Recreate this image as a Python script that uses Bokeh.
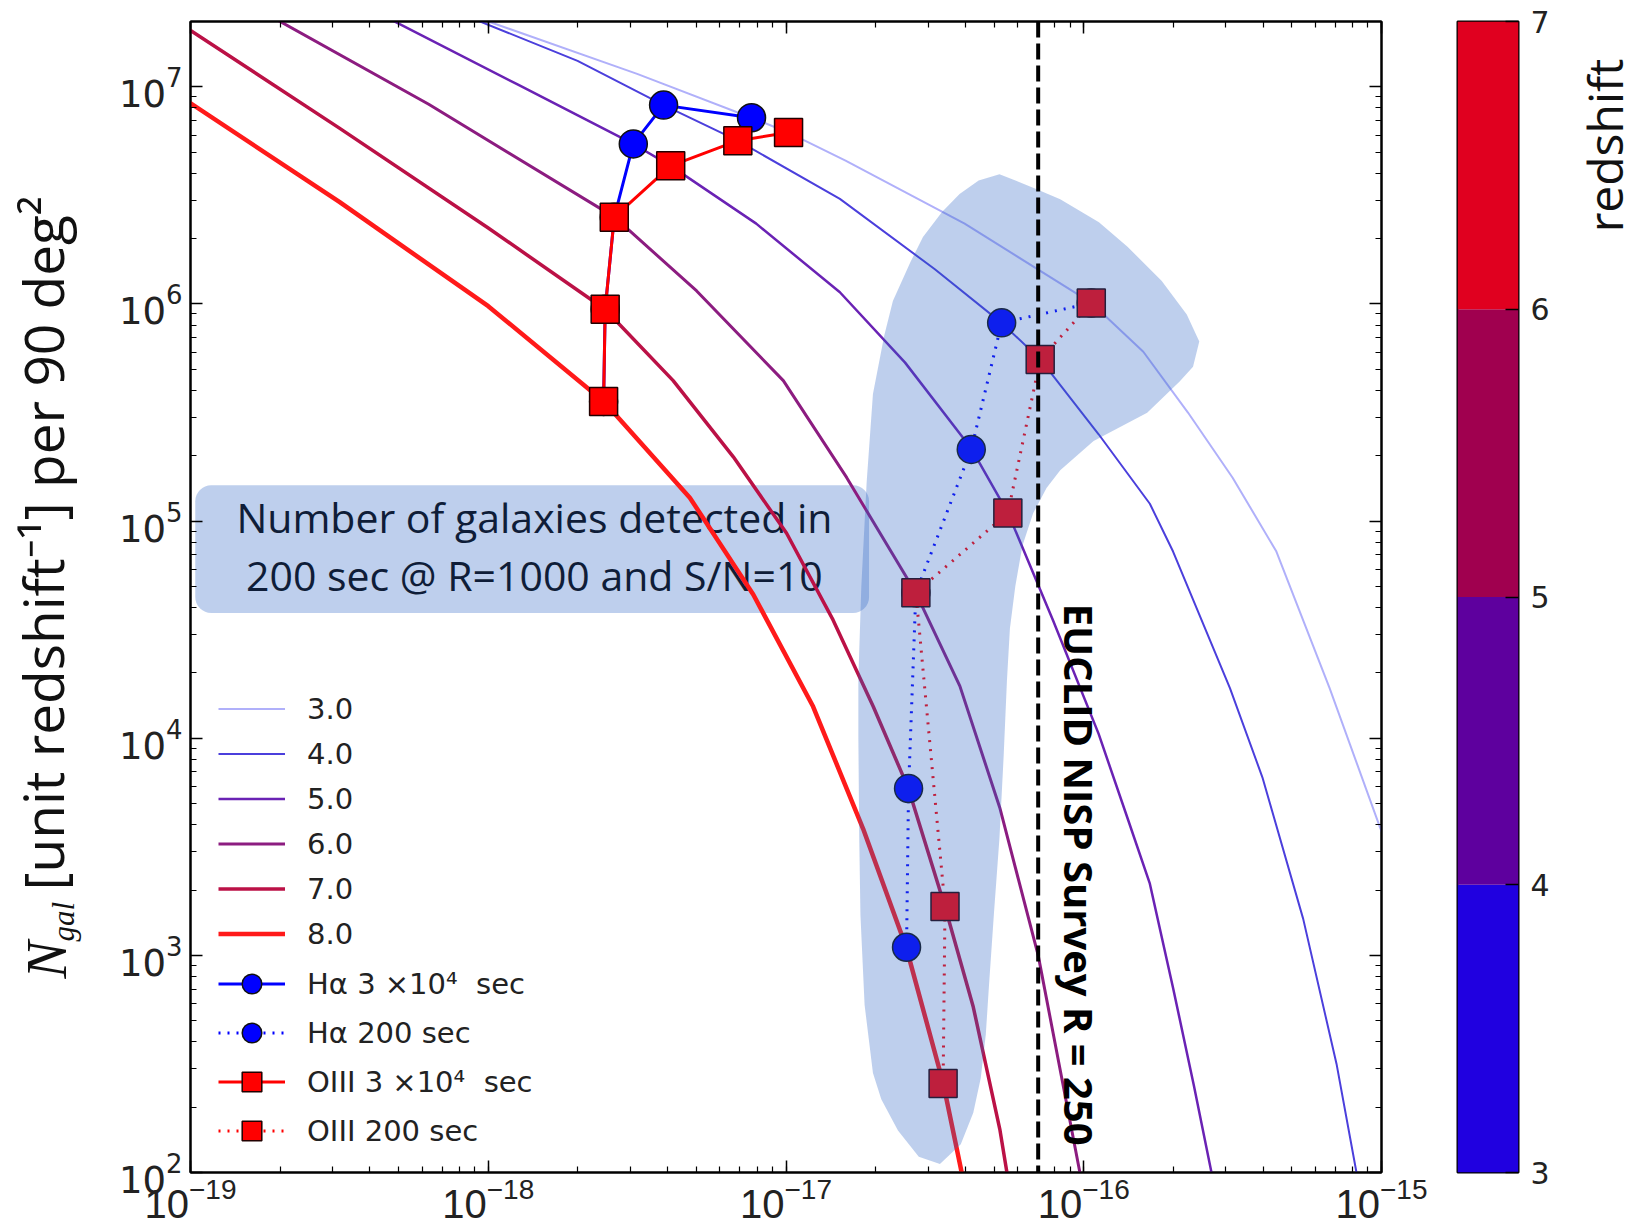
import numpy as np
from bokeh.plotting import figure
from bokeh.models import (Range1d, LogAxis, LogTicker, FixedTicker, Span, Label,
                          Legend, LegendItem)
from bokeh.layouts import row
from bokeh.embed import file_html
from bokeh.resources import INLINE
from bokeh.core.properties import value

# ---------------- data (log10 flux, log10 N) ----------------
z_labels = ["3.0", "4.0", "5.0", "6.0", "7.0", "8.0"]

z3_logF = [-18.06, -17.50, -17.116, -16.993, -16.80, -16.40, -15.974, -15.80, -15.65, -15.50, -15.353, -15.174, -15.006, -14.98]
z3_logN = [7.33, 7.06, 6.858, 6.790, 6.66, 6.37, 6.005, 5.78, 5.50, 5.20, 4.86, 4.23, 3.593, 3.50]

z4_logF = [-18.08, -17.70, -17.411, -17.162, -16.819, -16.50, -16.276, -16.146, -15.95, -15.778, -15.70, -15.509, -15.40, -15.263, -15.151, -15.084, -15.07]
z4_logN = [7.33, 7.12, 6.916, 6.752, 6.484, 6.16, 5.913, 5.745, 5.40, 5.08, 4.86, 4.231, 3.82, 3.168, 2.50, 2.0, 1.85]

z5_logF = [-18.37, -17.90, -17.513, -17.387, -17.10, -16.819, -16.60, -16.377, -16.254, -16.103, -15.95, -15.85, -15.778, -15.70, -15.63, -15.571, -15.555]
z5_logN = [7.34, 7.01, 6.737, 6.636, 6.37, 6.054, 5.73, 5.333, 5.036, 4.542, 4.02, 3.62, 3.33, 2.85, 2.40, 2.0, 1.85]

z6_logF = [-18.75, -18.20, -17.576, -17.30, -17.009, -16.796, -16.564, -16.416, -16.282, -16.153, -16.013, -15.99]
z6_logN = [7.34, 6.92, 6.400, 6.06, 5.647, 5.20, 4.670, 4.240, 3.68, 3.0, 2.0, 1.85]

z7_logF = [-19.05, -18.50, -18.00, -17.608, -17.379, -17.177, -16.998, -16.842, -16.707, -16.589, -16.466, -16.371, -16.282, -16.24]
z7_logN = [7.305, 6.81, 6.35, 5.976, 5.647, 5.296, 4.944, 4.545, 4.146, 3.769, 3.224, 2.762, 2.200, 1.85]

z8_logF = [-19.05, -18.50, -18.00, -17.612, -17.323, -17.110, -16.909, -16.741, -16.596, -16.472, -16.41, -16.39]
z8_logN = [6.97, 6.47, 5.99, 5.551, 5.108, 4.662, 4.146, 3.583, 3.036, 2.411, 2.0, 1.85]

curve_colors = ["#6f6ff5", "#4b3fdc", "#6a22b4", "#8c1c80", "#bb1146", "#ff1a1a"]
curve_widths = [2.0, 2.0, 2.5, 3.0, 3.5, 4.5]
curve_alphas = [0.55, 1.0, 1.0, 1.0, 1.0, 1.0]

# markers
ha_long_flux = [2.44e-18, 2.47e-18, 2.65e-18, 3.07e-18, 3.88e-18, 7.66e-18]
ha_long_n = [3.56e5, 9.46e5, 2.51e6, 5.46e6, 8.24e6, 7.21e6]
oiii_long_flux = [2.44e-18, 2.47e-18, 2.65e-18, 4.10e-18, 6.89e-18, 1.02e-17]
oiii_long_n = [3.56e5, 9.46e5, 2.51e6, 4.33e6, 5.65e6, 6.17e6]
ha_short_flux = [2.54e-17, 2.58e-17, 2.73e-17, 4.19e-17, 5.30e-17, 1.06e-16]
ha_short_n = [1.09e3, 5.87e3, 4.68e4, 2.14e5, 8.19e5, 1.01e6]
oiii_short_flux = [3.37e-17, 3.42e-17, 2.73e-17, 5.56e-17, 7.14e-17, 1.06e-16]
oiii_short_n = [2.57e2, 1.68e3, 4.68e4, 1.09e5, 5.55e5, 1.01e6]

series_labels = ["Hα 3 ×10⁴  sec", "Hα 200 sec", "OIII 3 ×10⁴  sec", "OIII 200 sec"]

euclid_limit = 7.03e-17
euclid_text = "EUCLID NISP Survey R = 250"
euclid_logF = -16.013
euclid_logN = 4.62

# highlighted region
blob_logF = [-16.283, -16.160, -16.079, -15.949, -15.854, -15.738, -15.654, -15.612, -15.633, -15.678,
             -15.787, -15.967, -16.079, -16.125, -16.170, -16.206, -16.230, -16.248, -16.258, -16.269,
             -16.283, -16.301, -16.318, -16.329, -16.346, -16.371, -16.413, -16.483, -16.554, -16.624,
             -16.680, -16.708, -16.736, -16.750, -16.754, -16.757, -16.757, -16.747, -16.729, -16.708,
             -16.670, -16.641, -16.582, -16.540, -16.476, -16.417, -16.353]
blob_logN = [6.598, 6.530, 6.482, 6.376, 6.265, 6.106, 5.952, 5.827, 5.711, 5.643,
             5.499, 5.369, 5.234, 5.152, 5.036, 4.887, 4.699, 4.506, 4.265, 3.918,
             3.542, 3.205, 2.867, 2.636, 2.434, 2.275, 2.130, 2.039, 2.072, 2.193,
             2.337, 2.458, 2.771, 3.186, 3.542, 4.005, 4.275, 4.699, 5.181, 5.586,
             5.855, 6.014, 6.193, 6.308, 6.424, 6.506, 6.569]

box_logF = [-18.984, -16.721]
box_logN = [4.577, 5.165]
box_text = ["Number of galaxies detected in", "200 sec @ R=1000 and S/N=10"]
box_text_logF = [-17.845, -17.845]
box_text_logN = [5.020, 4.750]

cbar_low = [3, 4, 5, 6]
cbar_high = [4, 5, 6, 7]
cbar_colors = ["#2000e0", "#5e009e", "#a0004f", "#e0001f"]
cbar_ticks = [3, 4, 5, 6, 7]

H = 1231
BORDERS = dict(min_border_top=21, min_border_bottom=59)

# ---------------- y-axis label strip ----------------
ylab = figure(width=90, height=H, x_range=Range1d(0, 1), y_range=Range1d(0, 1),
              min_border_left=0, min_border_right=0, **BORDERS,
              x_axis_location=None, y_axis_location=None, toolbar_location=None,
              output_backend="svg")
ylab.grid.visible = False
ylab.outline_line_color = None
ylab.add_layout(Label(x=46, y=194, x_units="screen", y_units="screen", text="N", angle=np.pi / 2,
                      text_align="left", text_baseline="middle", text_font="Liberation Serif",
                      text_font_style="italic", text_font_size="56px", text_color="#111111"))
ylab.add_layout(Label(x=63, y=231, x_units="screen", y_units="screen", text="gal", angle=np.pi / 2,
                      text_align="left", text_baseline="middle", text_font="Liberation Serif",
                      text_font_style="italic", text_font_size="31px", text_color="#111111"))
ylab.add_layout(Label(x=42, y=282, x_units="screen", y_units="screen",
                      text="[unit redshift⁻¹] per 90 deg²", angle=np.pi / 2,
                      text_align="left", text_baseline="middle", text_font="Open Sans",
                      text_font_size="55px", text_color="#111111"))

# ---------------- main figure ----------------
p = figure(width=1337, height=H, x_axis_type="log", y_axis_type="log",
           x_range=Range1d(1e-19, 1e-15), y_range=Range1d(1e2, 2e7),
           min_border_left=100, min_border_right=46, **BORDERS,
           toolbar_location=None, output_backend="svg")
p.xgrid.visible = False
p.ygrid.visible = False
p.outline_line_color = "black"
p.outline_line_width = 2


def style_axis(ax, show_labels, font="DejaVu Sans", size="33px", standoff=10):
    ax.ticker = LogTicker(num_minor_ticks=10)
    ax.axis_line_color = "black"
    ax.axis_line_width = 2
    ax.major_tick_in = 12
    ax.major_tick_out = 0
    ax.minor_tick_in = 6
    ax.minor_tick_out = 0
    ax.major_tick_line_width = 1.5
    ax.minor_tick_line_width = 1.2
    if show_labels:
        ax.major_label_text_font = font
        ax.major_label_text_font_size = size
        ax.major_label_text_color = "#222222"
        ax.major_label_standoff = standoff
    else:
        ax.major_label_text_font_size = "2px"
        ax.major_label_text_alpha = 0
        ax.major_label_standoff = 0


style_axis(p.xaxis[0], True, font="Liberation Sans", size="40px", standoff=4)
style_axis(p.yaxis[0], True, font="DejaVu Sans", size="37px", standoff=8)
top_axis = LogAxis()
style_axis(top_axis, False)
right_axis = LogAxis()
style_axis(right_axis, False)
p.add_layout(top_axis, "above")
p.add_layout(right_axis, "right")

# annotation box (under everything)
box = p.quad(left=[10 ** box_logF[0]], right=[10 ** box_logF[1]],
             bottom=[10 ** box_logN[0]], top=[10 ** box_logN[1]],
             fill_color="#2d64c5", fill_alpha=0.31, line_color=None, border_radius=16)
box.level = "underlay"

p.text(x=[10 ** v for v in box_text_logF], y=[10 ** v for v in box_text_logN], text=box_text,
       text_font=value("Open Sans"), text_font_size=value("41px"), text_color="#0f1d38",
       text_align="center", text_baseline="middle")

# model curves
curves = [(z3_logF, z3_logN), (z4_logF, z4_logN), (z5_logF, z5_logN),
          (z6_logF, z6_logN), (z7_logF, z7_logN), (z8_logF, z8_logN)]
curve_renderers = []
for (lf, ln), c, w, a in zip(curves, curve_colors, curve_widths, curve_alphas):
    r = p.line(np.power(10.0, lf), np.power(10.0, ln), line_color=c, line_width=w, line_alpha=a,
               line_join="round")
    curve_renderers.append(r)

# survey series
blue = "#0000ff"
red = "#ff0000"
l1 = p.line(ha_long_flux, ha_long_n, line_color=blue, line_width=3)
m1 = p.scatter(ha_long_flux, ha_long_n, marker="circle", size=28, fill_color=blue,
               line_color="#111111", line_width=1.5)
l3 = p.line(oiii_long_flux, oiii_long_n, line_color=red, line_width=3)
m3 = p.scatter(oiii_long_flux, oiii_long_n, marker="square", size=28, fill_color=red,
               line_color="#220000", line_width=1.5)
l2 = p.line(ha_short_flux, ha_short_n, line_color=blue, line_width=3, line_dash="2 7")
m2 = p.scatter(ha_short_flux, ha_short_n, marker="circle", size=28, fill_color=blue,
               line_color="#111111", line_width=1.5)
l4 = p.line(oiii_short_flux, oiii_short_n, line_color=red, line_width=3, line_dash="2 7")
m4 = p.scatter(oiii_short_flux, oiii_short_n, marker="square", size=28, fill_color=red,
               line_color="#220000", line_width=1.5)

# translucent highlighted region on top
p.patch(np.power(10.0, blob_logF), np.power(10.0, blob_logN), fill_color="#2d64c5",
        fill_alpha=0.31, line_color=None)

# EUCLID limit
p.add_layout(Span(location=euclid_limit, dimension="height", line_color="black",
                  line_width=4, line_dash="16 6"))
p.add_layout(Label(x=10 ** euclid_logF, y=10 ** euclid_logN, text=euclid_text, angle=-np.pi / 2,
                   text_align="left", text_baseline="alphabetic", text_font="Open Sans",
                   text_font_style="bold", text_font_size="40px", text_color="black"))

# legends
line_items = [LegendItem(label=lab, renderers=[r]) for lab, r in zip(z_labels, curve_renderers)]
marker_items = [LegendItem(label=series_labels[0], renderers=[l1, m1]),
                LegendItem(label=series_labels[1], renderers=[l2, m2]),
                LegendItem(label=series_labels[2], renderers=[l3, m3]),
                LegendItem(label=series_labels[3], renderers=[l4, m4])]
common = dict(padding=0, margin=0, border_line_color=None, background_fill_alpha=0,
              glyph_width=67, spacing=0, label_standoff=22,
              label_text_font="DejaVu Sans", label_text_font_size="29px",
              label_text_color="#222222")
legend1 = Legend(items=line_items, location=(28, 216), glyph_height=45, **common)
legend2 = Legend(items=marker_items, location=(28, 17), glyph_height=49, **common)
p.add_layout(legend1)
p.add_layout(legend2)

# ---------------- colour bar figure ----------------
cb = figure(width=141, height=H, x_range=Range1d(0, 1), y_range=Range1d(3, 7),
            min_border_left=30, min_border_right=50, **BORDERS,
            toolbar_location=None, output_backend="svg",
            x_axis_location=None, y_axis_location="right")
cb.quad(left=0, right=1, bottom=cbar_low, top=cbar_high, fill_color=cbar_colors, line_color=None)
cb.xgrid.visible = False
cb.ygrid.visible = False
cb.outline_line_color = "black"
cb.outline_line_width = 2
cax = cb.yaxis[0]
cax.ticker = FixedTicker(ticks=cbar_ticks)
cax.minor_tick_line_color = None
cax.axis_line_color = None
cax.major_tick_in = 13
cax.major_tick_out = 0
cax.major_tick_line_width = 1.5
cax.major_label_text_font = "DejaVu Sans"
cax.major_label_text_font_size = "30px"
cax.major_label_text_color = "#222222"
cax.major_label_standoff = 12

# ---------------- colour bar title strip ----------------
rlab = figure(width=73, height=H, x_range=Range1d(0, 1), y_range=Range1d(0, 1),
              min_border_left=0, min_border_right=0, **BORDERS,
              x_axis_location=None, y_axis_location=None, toolbar_location=None,
              output_backend="svg")
rlab.grid.visible = False
rlab.outline_line_color = None
rlab.add_layout(Label(x=36, y=1027, x_units="screen", y_units="screen", text="redshift",
                      angle=np.pi / 2, text_align="center", text_baseline="middle",
                      text_font="Open Sans", text_font_size="48px", text_color="#111111"))

layout = row(ylab, p, cb, rlab)
open("out.html", "w").write(file_html(layout, INLINE))
